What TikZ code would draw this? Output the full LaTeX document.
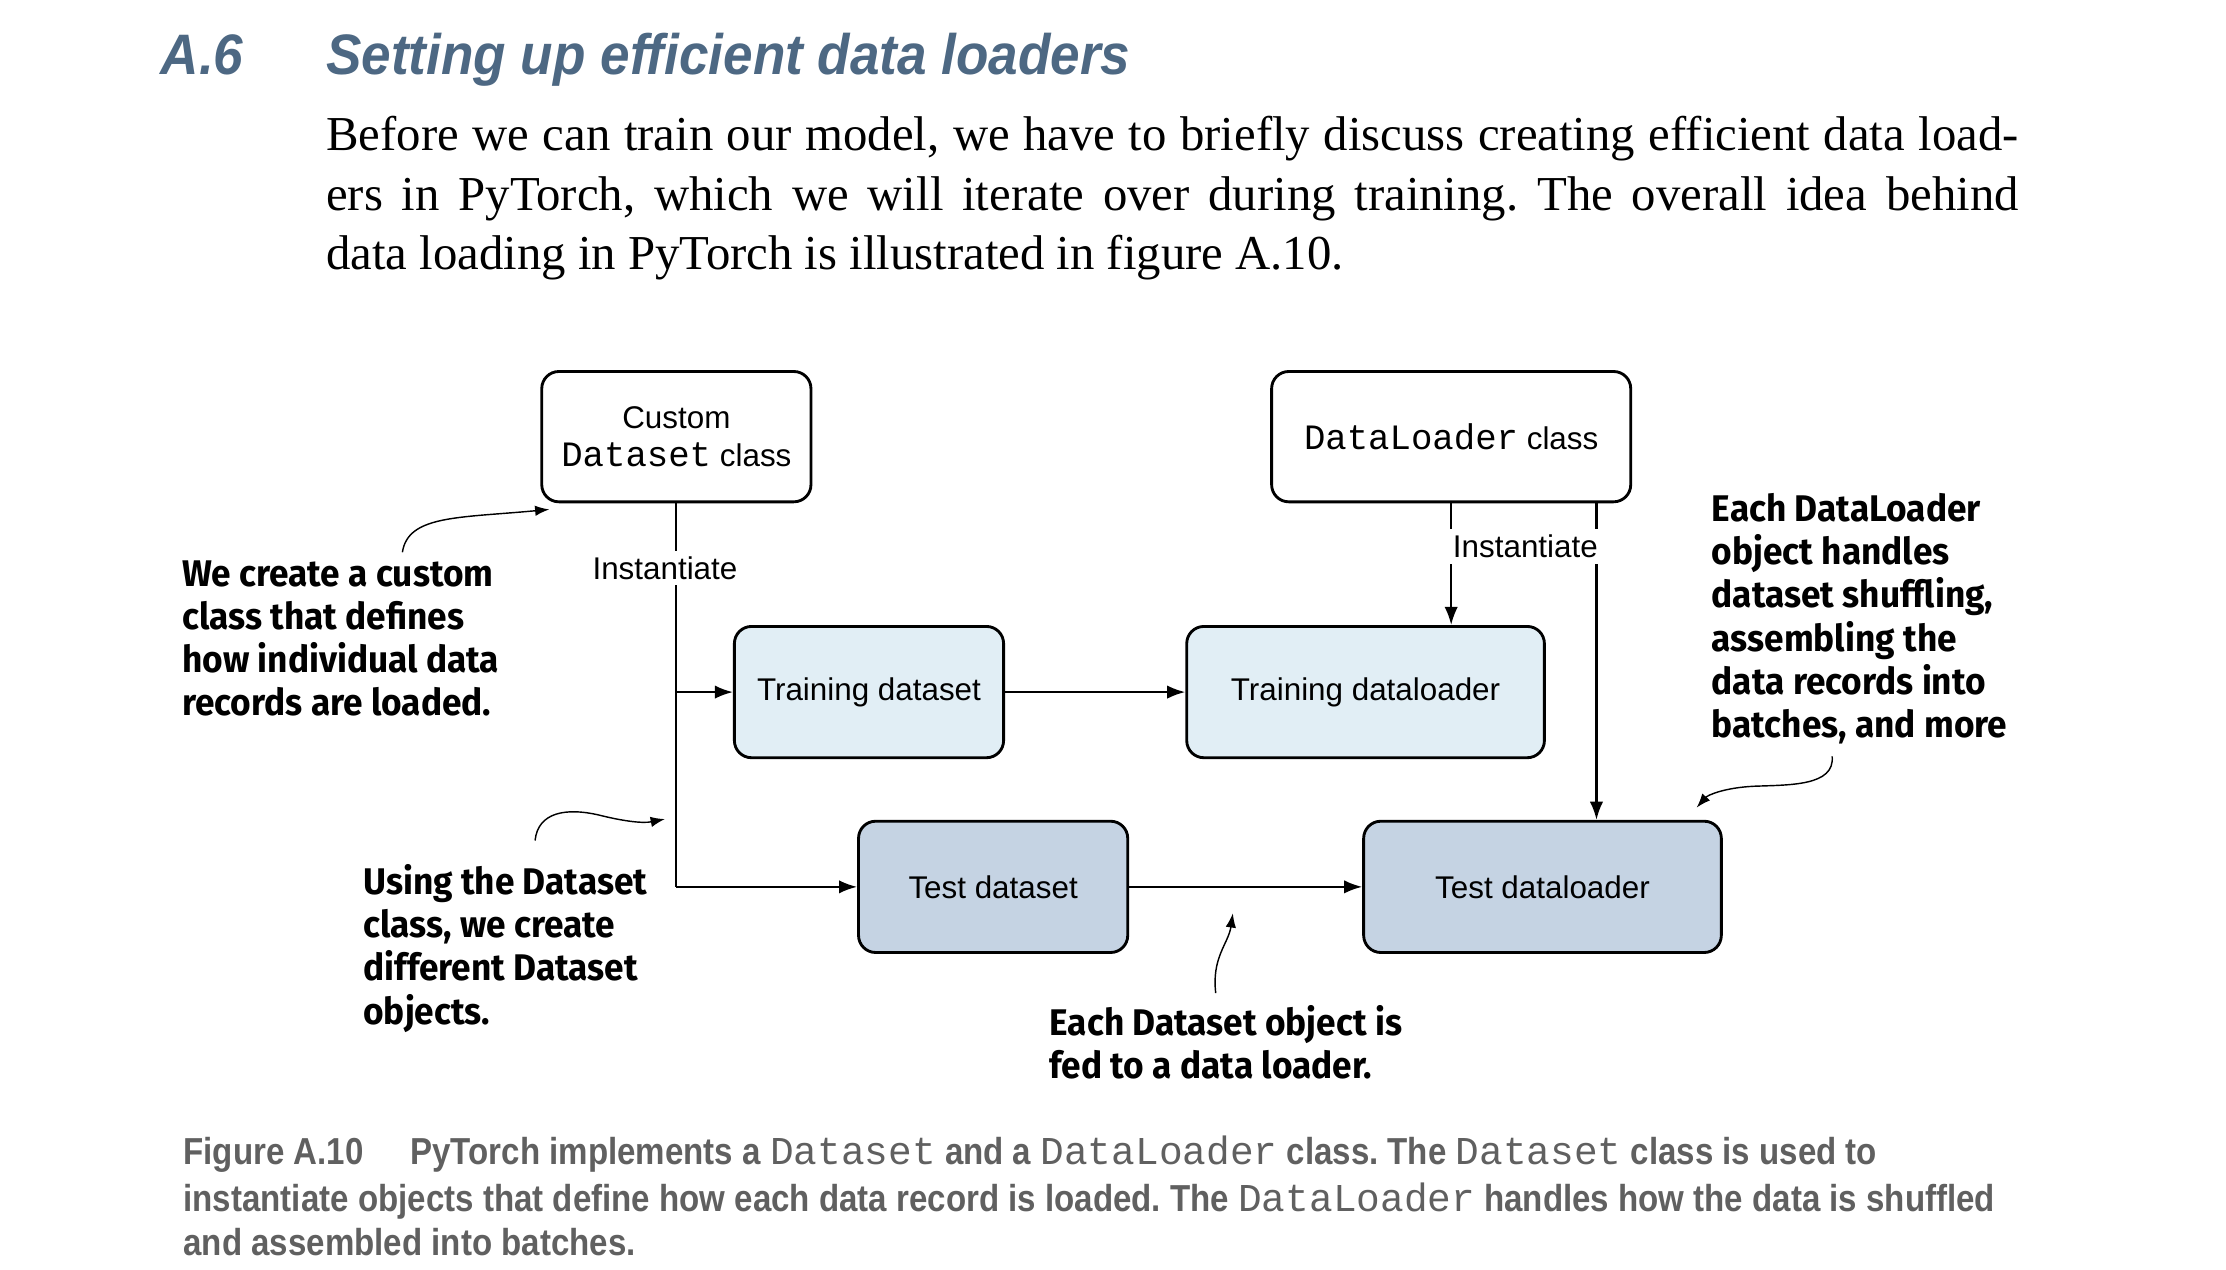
\documentclass[tikz,border=0pt]{standalone}
\usepackage{fontspec}
\setmainfont{Liberation Serif}
\newfontfamily\headfont{Liberation Sans}[FakeStretch=0.93]
\newfontfamily\notefont{Fira Sans}[FakeStretch=0.95]
\newfontfamily\boxfont{Liberation Sans}
\newfontfamily\codefont{Liberation Mono}
\newfontfamily\capfont{Liberation Sans}[FakeStretch=0.88]
\usetikzlibrary{arrows.meta,calc}
\definecolor{headblue}{RGB}{77,104,131}
\definecolor{trainfill}{RGB}{225,238,245}
\definecolor{testfill}{RGB}{197,211,227}
\definecolor{capgray}{RGB}{96,96,96}
\newcommand\boxcode[1]{{\codefont\fontsize{7.5}{8.1}\selectfont #1}}
\newcommand\capcode[1]{{\codefont\mdseries\fontsize{8.3}{9.6}\selectfont #1}}
\frenchspacing
\tikzset{
  class box/.style={draw=black, line width=0.6pt, rounded corners=3.6pt,
    fill=white, align=center, inner sep=0pt,
    font=\boxfont\fontsize{6.6}{8.1}\selectfont},
  train box/.style={class box, fill=trainfill},
  test box/.style={class box, fill=testfill},
  link/.style={line width=0.45pt},
  flow/.style={link, -{Latex[length=3.8pt,width=2.8pt]}},
  hint/.style={line width=0.3pt, -{Latex[length=3pt,width=2.2pt]}},
  inst label/.style={fill=white, inner sep=1.2pt,
    font=\boxfont\fontsize{6.6}{8}\selectfont},
  note text/.style={anchor=north west, align=left, inner sep=0pt,
    font=\notefont\bfseries\fontsize{7.8}{9.1}\selectfont},
  cap text/.style={anchor=base west, inner sep=0pt, text=capgray,
    font=\capfont\bfseries\fontsize{7.9}{9.6}\selectfont},
}
\begin{document}
\begin{tikzpicture}[x=0.3pt,y=-0.3pt]
\useasboundingbox (0,0) rectangle (1560,890);
% heading and text
\node[anchor=base west, inner sep=0pt, text=headblue,
  font=\headfont\bfseries\itshape\fontsize{12}{13}\selectfont]
  (SecNum) at (112,52) {A.6};
\node[anchor=base west, inner sep=0pt, text=headblue,
  font=\headfont\bfseries\itshape\fontsize{12}{13}\selectfont]
  (SecTitle) at (228,52) {Setting up efficient data loaders};
\node[anchor=north west, inner sep=0pt, text width=355.8pt, align=justify,
  font=\fontsize{10.25}{12.45}\selectfont] (Intro) at (228,81)
  {Before we can train our model, we have to briefly discuss creating efficient data load-\linebreak
   ers in PyTorch, which we will iterate over during training. The overall idea behind\linebreak
   data loading in PyTorch is illustrated in figure A.10.};
% classes
\node[class box, minimum width=56.6pt, minimum height=27.4pt]
  (CustomClass) at (474,306) {Custom\\\boxcode{Dataset} class};
\node[class box, minimum width=75.5pt, minimum height=27.4pt]
  (LoaderClass) at (1017,306) {\boxcode{DataLoader} class};
% objects
\node[train box, minimum width=56.6pt, minimum height=27.6pt]
  (TrainSet) at (609,485) {Training dataset};
\node[train box, minimum width=75.2pt, minimum height=27.6pt]
  (TrainLoader) at (957,485) {Training dataloader};
\node[test box, minimum width=56.6pt, minimum height=27.6pt]
  (TestSet) at (696,621.5) {Test dataset};
\node[test box, minimum width=75.2pt, minimum height=27.6pt]
  (TestLoader) at (1081,621.5) {Test dataloader};
% connectors
\draw[link] (CustomClass.south) -- (CustomClass.south |- TestSet.west);
\draw[flow] (CustomClass.south |- TestSet.west) -- (TestSet.west);
\draw[flow] (CustomClass.south |- TrainSet.west) -- (TrainSet.west);
\draw[flow] (TrainSet.east) -- (TrainLoader.west);
\draw[flow] (TestSet.east) -- (TestLoader.west);
\draw[flow] (LoaderClass.south) -- (LoaderClass.south |- TrainLoader.north);
\coordinate (FeedTop) at ($(LoaderClass.south east)+(-25,0)$);
\draw[flow] (FeedTop) -- (FeedTop |- TestLoader.north);
\node[inst label] (InstA) at (466,398) {Instantiate};
\node[inst label] (InstB) at (1069,383) {Instantiate};
% notes
\node[note text] (NoteCustom) at (127,392)
  {We create a custom\\class that defines\\how individual data\\records are loaded.};
\node[note text] (NoteUsing) at (254,605)
  {Using the Dataset\\class, we create\\different Dataset\\objects.};
\node[note text] (NoteFed) at (735,704)
  {Each Dataset object is\\fed to a data loader.};
\node[note text] (NoteLoader) at (1199,345)
  {Each DataLoader\\object handles\\dataset shuffling,\\assembling the\\data records into\\batches, and more};
\coordinate (HintA) at (282,387);
\coordinate (HintB) at (375,589);
\coordinate (HintC) at (852,696);
\coordinate (HintD) at (1284,530);
\draw[hint] (HintA) .. controls (286,361) and (321,363) .. (385,357);
\draw[hint] (HintB) .. controls (377,569) and (397,566) .. (419,571)
  .. controls (439,576) and (451,577) .. (466,574);
\draw[hint] (HintC) .. controls (849,671) and (861,661) .. (864,640);
\draw[hint] (HintD) .. controls (1286,551) and (1254,550) .. (1229,551)
  .. controls (1209,552) and (1197,557) .. (1189,566);
% caption
\node[cap text] (FigLabel) at (128,816) {Figure A.10};
\node[cap text] (CapA) at (287,816)
  {PyTorch implements a \capcode{Dataset} and a \capcode{DataLoader} class. The \capcode{Dataset} class is used to};
\node[cap text] (CapB) at (128,849)
  {instantiate objects that define how each data record is loaded. The \capcode{DataLoader} handles how the data is shuffled};
\node[cap text] (CapC) at (128,880) {and assembled into batches.};
\end{tikzpicture}
\end{document}
